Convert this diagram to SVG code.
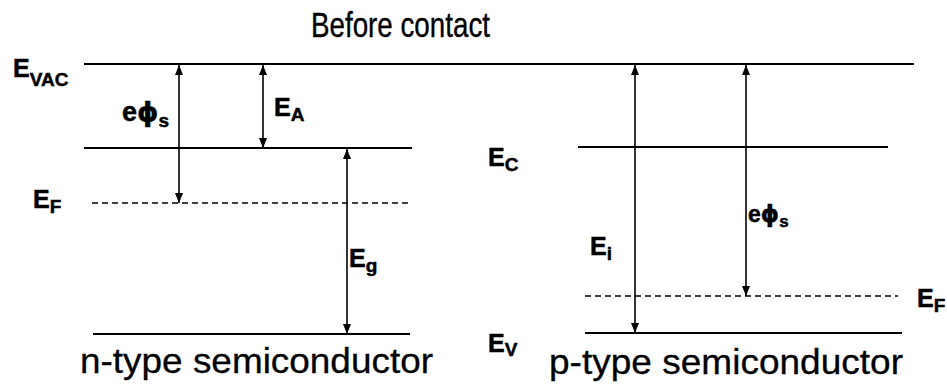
<svg xmlns="http://www.w3.org/2000/svg" width="947" height="384" viewBox="0 0 947 384">
<style>
.lvl{stroke:#000;stroke-width:2;fill:none}
.dash{stroke:#000;stroke-width:1.3;stroke-dasharray:6 4;fill:none}
.arr{stroke:#000;stroke-width:1.6;fill:none;marker-start:url(#ah);marker-end:url(#ah)}
.lb{font-family:"Liberation Sans",Arial,sans-serif;font-weight:bold;font-size:25px;fill:#000;stroke:#000;stroke-width:0.5}
.sub{font-size:19px}
.phi{font-family:"DejaVu Sans",sans-serif}
.cap{font-family:"Liberation Sans",Arial,sans-serif;font-size:35px;fill:#000;stroke:#000;stroke-width:0.3}
</style>
<defs>
<marker id="ah" viewBox="0 0 10 8" refX="10" refY="4" markerWidth="10" markerHeight="8" markerUnits="userSpaceOnUse" orient="auto-start-reverse">
<path d="M0,0 L10,4 L0,8 Z" fill="#000"/>
</marker>
</defs>
<rect width="947" height="384" fill="#fff"/>
<text class="cap" transform="translate(311,37) scale(1,1.25)" style="font-size:28px" textLength="179" lengthAdjust="spacingAndGlyphs">Before contact</text>

<g id="vacuum-level">
<line class="lvl" x1="84" y1="64" x2="914" y2="64"/>
<text class="lb" x="13" y="77" style="font-size:25px">E<tspan class="sub" dy="9" style="font-size:19px">VAC</tspan></text>
</g>

<g id="n-type">
<g id="n-Ec"><line class="lvl" x1="84" y1="148" x2="412" y2="148"/></g>
<g id="n-EF"><line class="dash" x1="92" y1="203" x2="411" y2="203"/>
<text class="lb" x="33" y="208">E<tspan class="sub" dy="5">F</tspan></text></g>
<g id="n-Ev"><line class="lvl" x1="93" y1="334" x2="410" y2="334"/></g>
<text class="cap" x="80" y="373" textLength="353" lengthAdjust="spacingAndGlyphs">n-type semiconductor</text>
</g>

<g id="p-type">
<g id="p-Ec"><line class="lvl" x1="578" y1="147" x2="888" y2="147"/>
<text class="lb" x="488" y="166">E<tspan class="sub" dy="5">C</tspan></text></g>
<g id="p-EF"><line class="dash" x1="585" y1="296" x2="898" y2="296"/>
<text class="lb" x="917" y="307">E<tspan class="sub" dy="5">F</tspan></text></g>
<g id="p-Ev"><line class="lvl" x1="585" y1="333" x2="902" y2="333"/>
<text class="lb" x="488" y="352">E<tspan class="sub" dy="4">V</tspan></text></g>
<text class="cap" x="549" y="374" textLength="354" lengthAdjust="spacingAndGlyphs">p-type semiconductor</text>
</g>

<g id="connectors">
<line class="arr" x1="179" y1="65" x2="179" y2="203"/>
<line class="arr" x1="263" y1="65" x2="263" y2="148"/>
<line class="arr" x1="347" y1="149" x2="347" y2="334"/>
<line class="arr" x1="635" y1="65" x2="635" y2="333"/>
<line class="arr" x1="746" y1="65" x2="746" y2="296"/>
<text class="lb" x="122" y="121" style="font-size:27px">e<tspan class="phi">ϕ</tspan><tspan class="sub" dy="6" style="font-size:19px">s</tspan></text>
<text class="lb" x="274" y="116">E<tspan class="sub" dy="5">A</tspan></text>
<text class="lb" x="349" y="267">E<tspan class="sub" dy="5">g</tspan></text>
<text class="lb" x="590" y="255">E<tspan class="sub" dy="5">i</tspan></text>
<text class="lb" x="748" y="222" style="font-size:23px">e<tspan class="phi">ϕ</tspan><tspan class="sub" dy="5" style="font-size:17px">s</tspan></text>
</g>
</svg>
